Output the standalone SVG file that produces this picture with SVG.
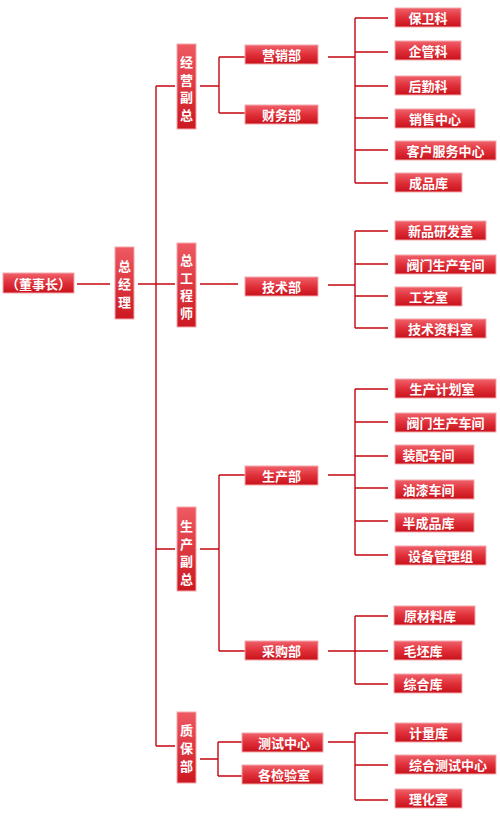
<svg xmlns="http://www.w3.org/2000/svg" width="500" height="820" viewBox="0 0 500 820">
<defs>
<linearGradient id="g" x1="0" y1="0" x2="0" y2="1">
<stop offset="0" stop-color="#f0626b"/>
<stop offset="0.5" stop-color="#e03039"/>
<stop offset="1" stop-color="#c8121c"/>
</linearGradient>
<linearGradient id="gv" x1="0" y1="0" x2="0" y2="1">
<stop offset="0" stop-color="#ee5a63"/>
<stop offset="1" stop-color="#cc1820"/>
</linearGradient>
</defs>
<style>
rect.b{fill:url(#g);stroke:#f3a7ab;stroke-width:1}
rect.v{fill:url(#gv);stroke:#f3a7ab;stroke-width:1}
text{font-family:"Noto Sans CJK SC","Noto Sans CJK TC",sans-serif;font-weight:bold;font-size:13px;fill:#fff;text-anchor:middle;dominant-baseline:central}
#connectors path{fill:none;stroke:#c4070f;stroke-width:1.4}
</style>
<g id="connectors">
<path d="M77 284H110"/>
<path d="M138 284H175"/>
<path d="M156 86V746"/>
<path d="M156 86H175M156 549H175M156 746H175"/>
<path d="M200 86H219M219 57V113M219 57H245M219 113H245"/>
<path d="M328 57H355M355 18V183M355 18H388M355 52H388M355 86H388M355 118H388M355 150H388M355 183H388"/>
<path d="M200 284H238"/>
<path d="M328 285H355M355 231V328M355 231H388M355 264H388M355 296H388M355 328H388"/>
<path d="M200 549H219M219 475V651M219 475H245M219 651H245"/>
<path d="M328 475H355M355 389V555M355 389H388M355 422H388M355 456H388M355 488H388M355 521H388M355 555H388"/>
<path d="M328 651H355M355 616V684M355 616H388M355 651H388M355 684H388"/>
<path d="M200 759H218M218 742V776M218 742H242M218 776H242"/>
<path d="M328 742H355M355 733V800M355 733H388M355 765H388M355 800H388"/>
</g>
<g id="n-dongshizhang"><rect class="b" x="3" y="273" width="71" height="20"/><text x="38.5" y="283">（董事长）</text></g>
<g id="n-zongjingli"><rect class="v" x="115" y="247" width="19" height="72"/><text x="124.5" y="265.5">总<tspan x="124.5" dy="17.6">经</tspan><tspan x="124.5" dy="17.6">理</tspan></text></g>
<g id="n-jingying"><rect class="v" x="177" y="44" width="19" height="85"/><text x="186.5" y="61">经<tspan x="186.5" dy="17.5">营</tspan><tspan x="186.5" dy="17.5">副</tspan><tspan x="186.5" dy="17.5">总</tspan></text></g>
<g id="n-zonggong"><rect class="v" x="177" y="243" width="19" height="84"/><text x="186.5" y="259">总<tspan x="186.5" dy="17.7">工</tspan><tspan x="186.5" dy="17.7">程</tspan><tspan x="186.5" dy="17.7">师</tspan></text></g>
<g id="n-shengchanfuzong"><rect class="v" x="177" y="507" width="19" height="84"/><text x="186.5" y="525">生<tspan x="186.5" dy="17.5">产</tspan><tspan x="186.5" dy="17.5">副</tspan><tspan x="186.5" dy="17.5">总</tspan></text></g>
<g id="n-zhibao"><rect class="v" x="177" y="712" width="19" height="71"/><text x="186.5" y="729">质<tspan x="186.5" dy="18">保</tspan><tspan x="186.5" dy="18">部</tspan></text></g>
<g id="n-yingxiao"><rect class="b" x="245" y="45" width="73" height="19"/><text x="281.5" y="54.5">营销部</text></g>
<g id="n-caiwu"><rect class="b" x="245" y="105" width="73" height="19"/><text x="281.5" y="114.5">财务部</text></g>
<g id="n-jishu"><rect class="b" x="245" y="277" width="73" height="19"/><text x="281.5" y="286.5">技术部</text></g>
<g id="n-shengchan"><rect class="b" x="245" y="466" width="73" height="19"/><text x="281.5" y="475.5">生产部</text></g>
<g id="n-caigou"><rect class="b" x="245" y="641" width="73" height="19"/><text x="281.5" y="650.5">采购部</text></g>
<g id="n-ceshi"><rect class="b" x="242" y="733" width="81" height="19"/><text x="284" y="742.5">测试中心</text></g>
<g id="n-gejian"><rect class="b" x="242" y="765" width="81" height="19"/><text x="284" y="774.5">各检验室</text></g>
<g id="n-baowei"><rect class="b" x="395" y="8" width="66" height="19"/><text x="428" y="17.5">保卫科</text></g>
<g id="n-qiguan"><rect class="b" x="395" y="41" width="66" height="19"/><text x="428" y="50.5">企管科</text></g>
<g id="n-houqin"><rect class="b" x="395" y="76" width="66" height="19"/><text x="428" y="85.5">后勤科</text></g>
<g id="n-xiaoshou"><rect class="b" x="395" y="109" width="80" height="19"/><text x="435" y="118.5">销售中心</text></g>
<g id="n-kehu"><rect class="b" x="395" y="141" width="101" height="19"/><text x="445.5" y="150.5">客户服务中心</text></g>
<g id="n-chengpin"><rect class="b" x="395" y="173" width="67" height="19"/><text x="428.5" y="182.5">成品库</text></g>
<g id="n-xinpin"><rect class="b" x="395" y="221" width="91" height="19"/><text x="440.5" y="230.5">新品研发室</text></g>
<g id="n-famen1"><rect class="b" x="395" y="255" width="101" height="19"/><text x="445.5" y="264.5">阀门生产车间</text></g>
<g id="n-gongyi"><rect class="b" x="395" y="287" width="67" height="19"/><text x="428.5" y="296.5">工艺室</text></g>
<g id="n-jishuziliao"><rect class="b" x="395" y="319" width="91" height="19"/><text x="440.5" y="328.5">技术资料室</text></g>
<g id="n-jihua"><rect class="b" x="395" y="379" width="101" height="19"/><text x="442" y="388.5">生产计划室</text></g>
<g id="n-famen2"><rect class="b" x="395" y="413" width="101" height="19"/><text x="445.5" y="422.5">阀门生产车间</text></g>
<g id="n-zhuangpei"><rect class="b" x="395" y="445" width="79" height="19"/><text x="428.5" y="454.5">装配车间</text></g>
<g id="n-youqi"><rect class="b" x="395" y="480" width="79" height="19"/><text x="428.5" y="489.5">油漆车间</text></g>
<g id="n-banchengpin"><rect class="b" x="395" y="513" width="79" height="19"/><text x="428.5" y="522.5">半成品库</text></g>
<g id="n-shebei"><rect class="b" x="395" y="546" width="91" height="19"/><text x="440.5" y="555.5">设备管理组</text></g>
<g id="n-yuancailiao"><rect class="b" x="394" y="606" width="81" height="19"/><text x="430" y="615.5">原材料库</text></g>
<g id="n-maopi"><rect class="b" x="394" y="641" width="68" height="19"/><text x="423" y="650.5">毛坯库</text></g>
<g id="n-zonghe"><rect class="b" x="394" y="674" width="68" height="19"/><text x="423" y="683.5">综合库</text></g>
<g id="n-jiliang"><rect class="b" x="395" y="723" width="67" height="19"/><text x="428.5" y="732.5">计量库</text></g>
<g id="n-zongheceshi"><rect class="b" x="395" y="755" width="101" height="19"/><text x="448" y="764.5">综合测试中心</text></g>
<g id="n-lihua"><rect class="b" x="395" y="789" width="67" height="19"/><text x="428.5" y="798.5">理化室</text></g>
</svg>
